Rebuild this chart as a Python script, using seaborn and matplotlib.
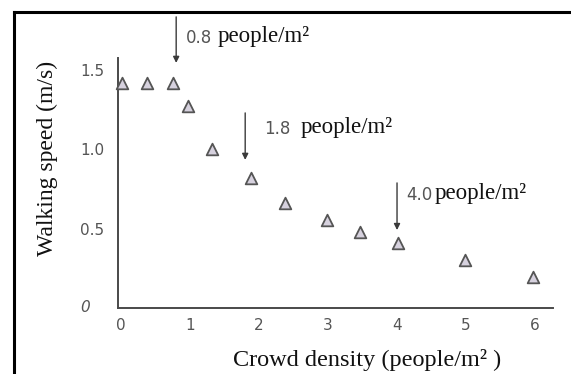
import matplotlib
matplotlib.use("Agg")
import matplotlib.pyplot as plt
import seaborn as sns
import pandas as pd
from matplotlib.lines import Line2D

# Measured walking speed against crowd density
density = [0.02, 0.38, 0.75, 0.97, 1.32, 1.88, 2.38, 2.98, 3.46, 4.02, 4.99, 5.97]
speed = [1.42, 1.42, 1.42, 1.27, 1.00, 0.82, 0.66, 0.555, 0.48, 0.41, 0.30, 0.195]

# Critical density markers
critical_density = [0.8, 1.8, 4.0]
critical_labels = ["0.8", "1.8", "4.0"]

x_ticks = [0, 1, 2, 3, 4, 5, 6]
y_ticks = [0.5, 1.0, 1.5]
y_tick_labels = ["0.5", "1.0", "1.5"]

df = pd.DataFrame({"density": density, "speed": speed})

sns.set_style("white")
plt.rcParams["font.family"] = ["DejaVu Sans"]

W, H = 571, 374
fig = plt.figure(figsize=(W / 100, H / 100), dpi=100)
fig.patch.set_facecolor("white")

# axes placed by pixel extents
ax_left, ax_right, ax_bottom, ax_top = 118, 553, 308, 58
ax = fig.add_axes([ax_left / W, 1 - ax_bottom / H,
                   (ax_right - ax_left) / W, (ax_bottom - ax_top) / H])
ax.set_facecolor("white")

sns.scatterplot(data=df, x="density", y="speed", marker="^", s=70,
                color="#d6d1de", edgecolor="#555555", linewidth=1.3,
                ax=ax, zorder=3, clip_on=False)

ax.set_xlim(-0.043, 6.26)
ax.set_ylim(0, 1.575)

for side in ["top", "right"]:
    ax.spines[side].set_visible(False)
for side in ["left", "bottom"]:
    ax.spines[side].set_color("#4a4a4a")
    ax.spines[side].set_linewidth(1.4)

grey = "#555555"
ax.set_xticks(x_ticks)
ax.set_xticklabels([str(t) for t in x_ticks], fontsize=11, color=grey)
ax.set_yticks(y_ticks)
ax.set_yticklabels(y_tick_labels, fontsize=11, color=grey)
ax.tick_params(axis="x", direction="in", length=6, width=1.1, color="#4a4a4a", pad=7)
ax.tick_params(axis="y", direction="in", length=9, width=1.1, color="#4a4a4a", pad=10)

# origin label on the y axis
ax.text(-0.52, 0, "0", fontsize=11, color=grey, style="italic",
        ha="center", va="center", transform=ax.transData)

ax.set_xlabel("")
ax.set_ylabel("")
serif = ["Liberation Serif", "DejaVu Serif"]
fig.text(367 / W, 1 - 360 / H, "Crowd density (people/m² )", family=serif,
         fontsize=17.5, color="#111111", ha="center", va="center")
fig.text(47 / W, 1 - 158 / H, "Walking speed (m/s)", family=serif,
         fontsize=17, color="#111111", ha="center", va="center", rotation=90)

# arrows with critical density labels
arrow_spans = [(1.834, 1.544), (1.229, 0.933), (0.788, 0.491)]
label_y = [1.70, 1.125, 0.71]
label_dx = [0.14, 0.28, 0.13]
label_gap = [4, 7, 2]
for xc, lab, (y0, y1), ly, dx, gap in zip(critical_density, critical_labels,
                                          arrow_spans, label_y, label_dx, label_gap):
    ax.annotate("", xy=(xc, y1), xytext=(xc, y0), xycoords="data",
                annotation_clip=False,
                arrowprops=dict(arrowstyle="-|>", color="#3a3a3a", lw=1.0,
                                mutation_scale=9, shrinkA=0, shrinkB=0))
    t = ax.text(xc + dx, ly, lab, fontsize=12, color=grey,
                ha="left", va="center", clip_on=False)
    ax.annotate("people/m²", xy=(1, 0.5), xycoords=t,
                xytext=(gap, 1.5), textcoords="offset points",
                fontsize=16.5, family=serif, color="#111111",
                ha="left", va="center", annotation_clip=False)

# frame lines along the left and top edges
fig.add_artist(Line2D([14 / W, 14 / W], [0, 1 - 12 / H], color="black",
                      lw=2.2, transform=fig.transFigure, solid_capstyle="projecting"))
fig.add_artist(Line2D([14 / W, 1], [1 - 12 / H, 1 - 12 / H], color="black",
                      lw=2.2, transform=fig.transFigure, solid_capstyle="projecting"))

fig.savefig("out.png", dpi=100, facecolor="white")
